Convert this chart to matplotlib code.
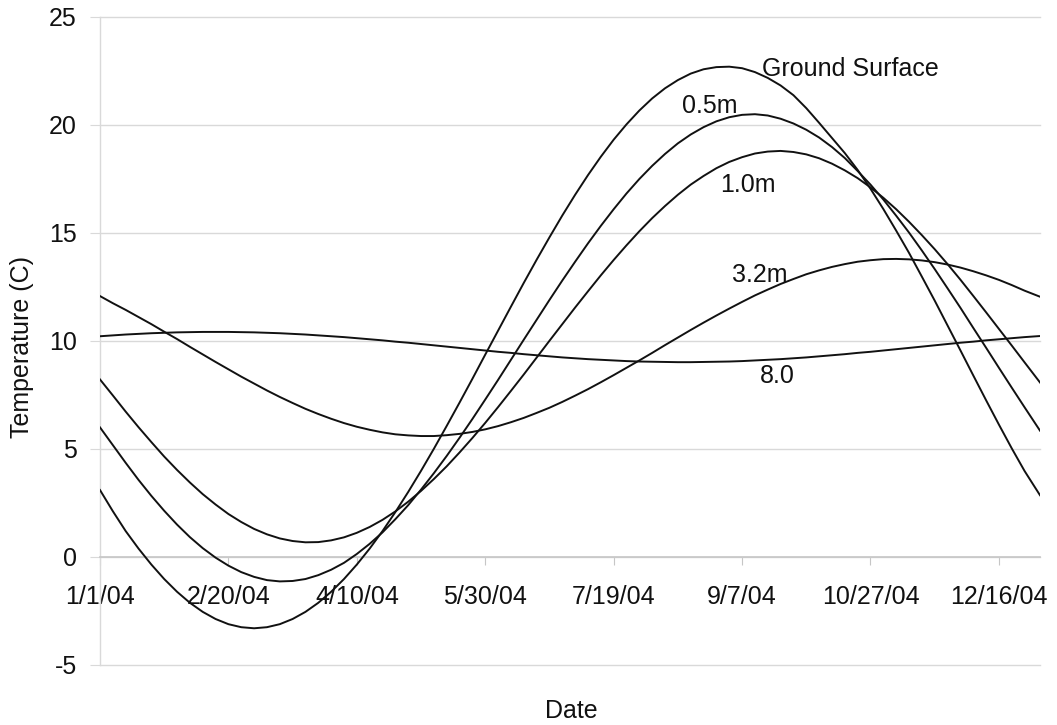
import matplotlib
matplotlib.use("Agg")
import matplotlib.pyplot as plt
from datetime import datetime, timedelta

plt.rcParams["font.family"] = ["Liberation Sans", "DejaVu Sans"]
plt.rcParams["axes.unicode_minus"] = False

# soil temperature by depth, 2004 (values every 5 days)
START = datetime(2004, 1, 1)
DAYS = list(range(0, 365, 5)) + [366]

GROUND = [3.10, 2.12, 1.20, 0.39, -0.35, -1.02, -1.61, -2.12, -2.54, -2.87,
          -3.11, -3.25, -3.30, -3.25, -3.11, -2.87, -2.54, -2.12, -1.61, -1.02,
          -0.35, 0.39, 1.20, 2.08, 3.01, 3.99, 5.01, 6.07, 7.15, 8.25,
          9.37, 10.48, 11.59, 12.69, 13.76, 14.80, 15.81, 16.77, 17.68, 18.53,
          19.32, 20.03, 20.67, 21.23, 21.70, 22.08, 22.38, 22.58, 22.68, 22.70,
          22.63, 22.45, 22.18, 21.83, 21.38, 20.78, 20.10, 19.40, 18.70, 17.92,
          17.05, 16.11, 15.11, 14.08, 12.98, 11.87, 10.72, 9.57, 8.41, 7.26,
          6.13, 5.03, 3.98, 2.86]
D05 = [6.00, 5.18, 4.36, 3.57, 2.83, 2.14, 1.50, 0.92, 0.41, -0.03,
       -0.40, -0.70, -0.92, -1.07, -1.13, -1.11, -1.02, -0.84, -0.59, -0.27,
       0.14, 0.61, 1.14, 1.75, 2.40, 3.12, 3.88, 4.68, 5.52, 6.39,
       7.29, 8.20, 9.13, 10.06, 10.98, 11.90, 12.80, 13.67, 14.52, 15.33,
       16.10, 16.83, 17.50, 18.11, 18.66, 19.15, 19.56, 19.90, 20.17, 20.36,
       20.47, 20.50, 20.44, 20.29, 20.07, 19.78, 19.42, 18.98, 18.47, 17.87,
       17.24, 16.55, 15.80, 15.02, 14.19, 13.33, 12.44, 11.54, 10.61, 9.69,
       8.76, 7.84, 6.93, 5.85]
D10 = [8.22, 7.48, 6.73, 6.01, 5.32, 4.65, 4.03, 3.45, 2.91, 2.43,
       1.99, 1.62, 1.30, 1.05, 0.86, 0.74, 0.68, 0.69, 0.77, 0.91,
       1.12, 1.39, 1.72, 2.11, 2.56, 3.06, 3.61, 4.20, 4.84, 5.51,
       6.21, 6.94, 7.69, 8.45, 9.23, 10.01, 10.78, 11.55, 12.30, 13.04,
       13.75, 14.43, 15.08, 15.69, 16.25, 16.77, 17.24, 17.64, 18.00, 18.29,
       18.51, 18.68, 18.77, 18.80, 18.75, 18.64, 18.46, 18.21, 17.90, 17.54,
       17.11, 16.63, 16.10, 15.52, 14.90, 14.25, 13.56, 12.84, 12.09, 11.33,
       10.56, 9.79, 9.01, 8.08]
D32 = [12.08, 11.75, 11.44, 11.11, 10.78, 10.43, 10.09, 9.73, 9.38, 9.03,
       8.69, 8.35, 8.03, 7.71, 7.41, 7.13, 6.86, 6.62, 6.40, 6.20,
       6.03, 5.89, 5.77, 5.68, 5.63, 5.60, 5.60, 5.64, 5.70, 5.79,
       5.91, 6.06, 6.24, 6.44, 6.67, 6.91, 7.18, 7.47, 7.77, 8.09,
       8.42, 8.76, 9.10, 9.45, 9.81, 10.16, 10.51, 10.85, 11.18, 11.50,
       11.81, 12.11, 12.38, 12.64, 12.87, 13.09, 13.27, 13.43, 13.56, 13.67,
       13.74, 13.79, 13.80, 13.78, 13.73, 13.65, 13.54, 13.40, 13.23, 13.04,
       12.83, 12.59, 12.33, 12.05]
D80 = [10.22, 10.26, 10.30, 10.33, 10.36, 10.38, 10.40, 10.41, 10.42, 10.42,
       10.42, 10.41, 10.40, 10.38, 10.36, 10.33, 10.30, 10.26, 10.22, 10.18,
       10.13, 10.08, 10.03, 9.97, 9.92, 9.86, 9.80, 9.74, 9.68, 9.62,
       9.56, 9.50, 9.45, 9.39, 9.34, 9.29, 9.24, 9.20, 9.16, 9.13,
       9.10, 9.07, 9.05, 9.04, 9.03, 9.02, 9.02, 9.03, 9.04, 9.05,
       9.07, 9.10, 9.13, 9.16, 9.20, 9.24, 9.29, 9.34, 9.39, 9.45,
       9.50, 9.56, 9.62, 9.68, 9.74, 9.80, 9.86, 9.92, 9.97, 10.03,
       10.08, 10.13, 10.18, 10.23]

SERIES = [GROUND, D05, D10, D32, D80]
NAMES = ["Ground Surface", "0.5m", "1.0m", "3.2m", "8.0"]
# label anchors (day of year, temperature) - left/baseline
LABEL_POS = [(257.8, 22.27), (226.6, 20.54), (241.5, 16.91), (246.1, 12.75), (257.1, 8.04)]

X_TICK_LABELS = ["1/1/04", "2/20/04", "4/10/04", "5/30/04", "7/19/04",
                 "9/7/04", "10/27/04", "12/16/04"]
Y_TICKS = [-5, 0, 5, 10, 15, 20, 25]

INK = "#111111"
GRID = "#D9D9D9"
AXIS = "#C6C6C6"

dates = [START + timedelta(days=d) for d in DAYS]

fig = plt.figure(figsize=(10.57, 7.25), dpi=100)
ax = fig.add_axes([100 / 1057, 60 / 725, 940 / 1057, 648 / 725])

for vals in SERIES:
    ax.plot(dates, vals, color=INK, lw=1.4, solid_joinstyle="round", zorder=3)

for name, (d, t) in zip(NAMES, LABEL_POS):
    ax.text(START + timedelta(days=d), t, name, fontsize=18, color=INK,
            ha="left", va="baseline", zorder=4)

ax.set_xlim(START, START + timedelta(days=366))
ax.set_ylim(-5, 25)
ax.set_yticks(Y_TICKS)
ax.set_yticklabels([str(v) for v in Y_TICKS])
tick_dates = [datetime.strptime(s, "%m/%d/%y") for s in X_TICK_LABELS]
ax.set_xticks(tick_dates)
ax.set_xticklabels(X_TICK_LABELS)

ax.yaxis.grid(True, color=GRID, lw=1.0)
for gl in ax.get_ygridlines():
    gl.set_clip_on(False)
ax.set_axisbelow(True)
for s in ["top", "right"]:
    ax.spines[s].set_visible(False)
ax.spines["left"].set_color(GRID)
ax.spines["left"].set_linewidth(1.0)
ax.spines["bottom"].set_position(("data", 0))
ax.spines["bottom"].set_color(AXIS)
ax.spines["bottom"].set_linewidth(1.2)

ax.tick_params(axis="y", length=7.2, width=0.8, color=GRID, pad=9.6,
               labelsize=18, labelcolor=INK)
ax.tick_params(axis="x", length=5.5, width=0.8, color=AXIS, pad=15,
               labelsize=18, labelcolor=INK)

fig.text(22.5 / 1057, 1 - 347.5 / 725, "Temperature (C)", rotation=90,
         fontsize=18, color=INK, ha="center", va="center")
fig.text(571 / 1057, 1 - 718 / 725, "Date", fontsize=18, color=INK,
         ha="center", va="baseline")

fig.savefig("out.png", dpi=100, facecolor="white")
